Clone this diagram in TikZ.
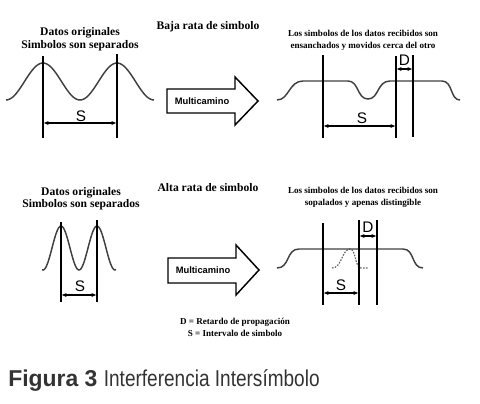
\documentclass[tikz,border=0pt]{standalone}
\usepackage{fontspec}
\usepackage{graphicx}
\setmainfont{Liberation Serif}
\setsansfont{Liberation Sans}
\usetikzlibrary{arrows.meta}
\begin{document}
\begin{tikzpicture}[x=0.75pt,y=-0.75pt,
  hdr/.style={font=\bfseries\fontsize{8.7}{10}\selectfont, anchor=base, inner sep=0},
  sm/.style={font=\bfseries\fontsize{6.8}{8}\selectfont, anchor=base, inner sep=0},
  lbl/.style={font=\sffamily\fontsize{11.5}{13}\selectfont, inner sep=0},
  mlt/.style={font=\sffamily\bfseries\fontsize{7}{8}\selectfont, inner sep=0},
  wave/.style={draw=black!75, line width=1.1pt},
  ghost/.style={draw=black!60, line width=0.9pt, dash pattern=on 1.2pt off 1pt},
  vline/.style={line width=1.4pt},
  dim/.style={{Latex[length=4pt,width=3pt]}-{Latex[length=4pt,width=3pt]}, line width=0.9pt},
  bigarrow/.style={draw, line width=1.1pt, fill=white, line join=miter},
]
\useasboundingbox (0,0) rectangle (480,404);

% ---------------- top row ----------------
\node[hdr] (h1a) at (80,35) {Datos originales};
\node[hdr] (h1b) at (80,48) {Simbolos son separados};
\node[hdr] (h2) at (208,29) {Baja rata de simbolo};
\node[sm] (h3a) at (363,36) {Los simbolos de los datos recibidos son};
\node[sm] (h3b) at (363,48) {ensanchados y movidos cerca del otro};

% original wave (top-left)
\draw[wave] plot[domain=6:154, samples=90, smooth] (\x, {81.5-18.5*cos(4.864865*(\x-43))});
\coordinate (a1t) at (43,56);  \coordinate (a1b) at (43,138);
\coordinate (a2t) at (117,54); \coordinate (a2b) at (117,138);
\draw[vline] (a1t) -- (a1b);
\draw[vline] (a2t) -- (a2b);
\coordinate (sa1) at (43,123); \coordinate (sa2) at (117,123);
\draw[dim] (sa1) -- (sa2);
\node[lbl] (sA) at (81,116.5) {S};

% multipath arrow (top)
\draw[bigarrow] (167,89) -- (235,89) -- (235,77) -- (258,101) -- (235,125) -- (235,113) -- (167,113) -- cycle;
\node[mlt] (m1) at (202,101) {Multicamino};

% received wave (top-right)
\draw[wave] (277,100) .. controls (289,100) and (289,81) .. (303,81) -- (348,81)
  .. controls (359,81) and (357,99) .. (368,99) .. controls (379,99) and (377,81) .. (390,81)
  -- (442,81) .. controls (453,81) and (450,100) .. (460,100);
\coordinate (b1t) at (323,55); \coordinate (b1b) at (323,138);
\coordinate (b2t) at (396,56); \coordinate (b2b) at (396,138);
\coordinate (b3t) at (413,55); \coordinate (b3b) at (413,137);
\draw[vline] (b1t) -- (b1b);
\draw[vline] (b2t) -- (b2b);
\draw[vline] (b3t) -- (b3b);
\coordinate (sb1) at (323,126); \coordinate (sb2) at (396,126);
\draw[dim] (sb1) -- (sb2);
\node[lbl] (sB) at (362,118) {S};
\coordinate (db1) at (396,69); \coordinate (db2) at (413,69);
\draw[dim] (db1) -- (db2);
\node[lbl] (dB) at (404.5,60.5) {D};

% ---------------- bottom row ----------------
\node[hdr] (h4a) at (81,195) {Datos originales};
\node[hdr] (h4b) at (81,207) {Simbolos son separados};
\node[hdr] (h5) at (208,191) {Alta rata de simbolo};
\node[sm] (h6a) at (363,193) {Los simbolos de los datos recibidos son};
\node[sm] (h6b) at (363,205) {sopalados y apenas distingible};

% original wave (bottom-left)
\draw[wave] plot[domain=42:116, samples=70, smooth] (\x, {248-22*cos(10*(\x-61))});
\coordinate (c1t) at (61,222); \coordinate (c1b) at (61,302);
\coordinate (c2t) at (97,220); \coordinate (c2b) at (97,302);
\draw[vline] (c1t) -- (c1b);
\draw[vline] (c2t) -- (c2b);
\coordinate (sc1) at (61,295); \coordinate (sc2) at (97,295);
\draw[dim] (sc1) -- (sc2);
\node[lbl] (sC) at (80,286.5) {S};

% multipath arrow (bottom)
\draw[bigarrow] (168,258) -- (236,258) -- (236,245) -- (259,270) -- (236,295) -- (236,283) -- (168,283) -- cycle;
\node[mlt] (m2) at (203,270.5) {Multicamino};

% received wave (bottom-right)
\draw[ghost] (332,268) .. controls (342,268) and (342,249) .. (350,249)
  .. controls (356,249) and (355,268) .. (361,268) -- (368,268);
\draw[wave] (277,268) .. controls (290,268) and (286,249) .. (299,249) -- (403,249)
  .. controls (415,249) and (411,268) .. (423,268);
\coordinate (d1t) at (323,223); \coordinate (d1b) at (323,305);
\coordinate (d2t) at (359,220); \coordinate (d2b) at (359,305);
\coordinate (d3t) at (377,220); \coordinate (d3b) at (377,305);
\draw[vline] (d1t) -- (d1b);
\draw[vline] (d2t) -- (d2b);
\draw[vline] (d3t) -- (d3b);
\coordinate (sd1) at (323,293); \coordinate (sd2) at (359,293);
\draw[dim] (sd1) -- (sd2);
\node[lbl] (sD) at (341,285.5) {S};
\coordinate (dd1) at (359,236); \coordinate (dd2) at (377,236);
\draw[dim] (dd1) -- (dd2);
\node[lbl] (dD) at (368,227) {D};

% legend
\node[sm] (l1) at (235,324) {D = Retardo de propagación};
\node[sm] (l2) at (235,336) {S = Intervalo de simbolo};

% caption
\node[anchor=base west, inner sep=0, text=black!80,
  font=\sffamily\fontsize{17.2}{20}\selectfont] (cap) at (8,386)
  {\bfseries Figura 3 \mdseries\scalebox{0.83}[1]{Interferencia Intersímbolo}};
\end{tikzpicture}
\end{document}
